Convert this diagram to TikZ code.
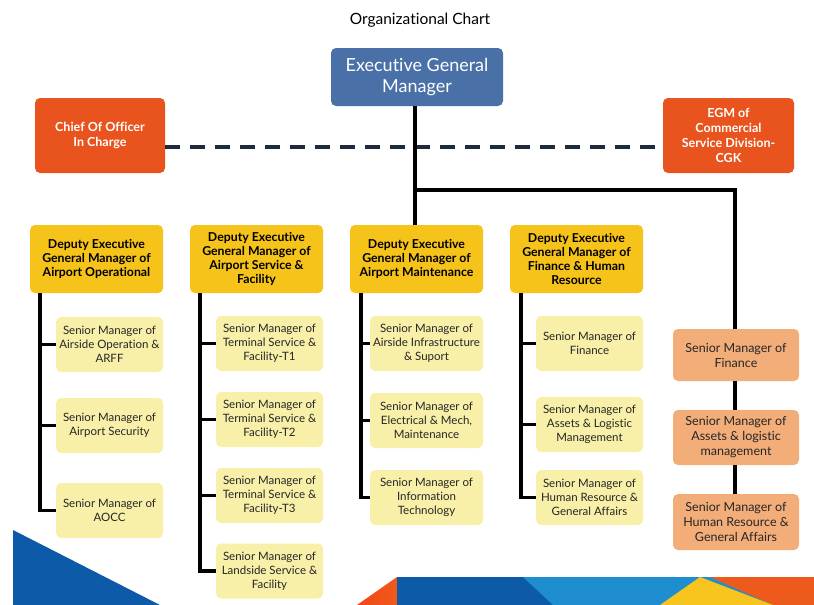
\documentclass[tikz,border=0pt]{standalone}
\usepackage{fontspec}
\setmainfont{Lato}[Ligatures=NoCommon]
\usetikzlibrary{positioning,calc}

\definecolor{egmblue}{HTML}{4A70A8}
\definecolor{redorange}{HTML}{E9531D}
\definecolor{depyellow}{HTML}{F6C31A}
\definecolor{paleyellow}{HTML}{F8F0A8}
\definecolor{peach}{HTML}{F2AD78}
\definecolor{navyline}{HTML}{1E2B3B}
\definecolor{bandblue}{HTML}{0D5AA8}
\definecolor{bandlight}{HTML}{1E8ED0}
\definecolor{bandyellow}{HTML}{F7C51E}
\definecolor{bandorange}{HTML}{EE5A1C}

\tikzset{
  box/.style={rounded corners=5pt, align=center, inner sep=2pt},
  topbox/.style={box, fill=egmblue, text=white, minimum width=172pt, minimum height=58pt,
    font=\fontsize{18}{21}\selectfont},
  sidebox/.style={box, fill=redorange, text=white, minimum width=130pt, minimum height=75pt,
    font=\bfseries\fontsize{12.5}{15}\selectfont},
  depbox/.style={box, fill=depyellow, text=black, minimum width=133pt, minimum height=68pt,
    font=\bfseries\fontsize{12.3}{14.2}\selectfont},
  srbox/.style={box, fill=paleyellow, text=black!85, minimum width=107pt, minimum height=55pt,
    font=\fontsize{11.5}{14}\selectfont},
  pkbox/.style={box, fill=peach, text=black!85, minimum width=126pt, minimum height=55pt,
    font=\fontsize{12.5}{15}\selectfont},
  conn/.style={line width=3.8pt, black, line join=miter},
  dashconn/.style={line width=3.6pt, navyline, dash pattern=on 15pt off 10pt},
}

\begin{document}
\begin{tikzpicture}[x=1pt, y=-1pt]
\useasboundingbox (0,0) rectangle (814,605);
\fill[white] (0,0) rectangle (814,605);

% decorative band along the bottom edge
\fill[bandblue] (13,530) -- (160,605) -- (13,605) -- cycle;
\shade[left color=bandorange!80!red, right color=bandorange] (357,605) -- (397,577) -- (397,605) -- cycle;
\fill[bandblue] (397,577) rectangle (814,605);
\fill[bandlight] (523,577) -- (814,577) -- (814,605) -- (553,605) -- cycle;
\fill[bandorange] (710,577) -- (814,577) -- (814,605) -- (773,605) -- cycle;
\fill[bandyellow] (700,577) -- (773,605) -- (660,605) -- cycle;

% title
\node (title) at (420,20) {\fontsize{15.5}{18}\selectfont Organizational Chart};

% top level
\node[topbox] (egm) at (417,77) {Executive General\\Manager};
\node[sidebox] (chief) at (100,135.5) {Chief Of Officer\\In Charge};
\node[sidebox, minimum width=131pt] (egmc) at (728.5,135.5) {EGM of\\Commercial\\Service Division-\\CGK};

% deputies
\node[depbox] (dep1) at (96.5,259) {Deputy Executive\\General Manager of\\Airport Operational};
\node[depbox] (dep2) at (256.5,259) {Deputy Executive\\General Manager of\\Airport Service \&\\Facility};
\node[depbox] (dep3) at (416.5,259) {Deputy Executive\\General Manager of\\Airport Maintenance};
\node[depbox] (dep4) at (576.5,259) {Deputy Executive\\General Manager of\\Finance \& Human\\Resource};

% senior managers, operational
\node[srbox] (s11) at (109.5,344.5) {Senior Manager of\\Airside Operation \&\\ARFF};
\node[srbox] (s12) at (109.5,425.5) {Senior Manager of\\Airport Security};
\node[srbox] (s13) at (109.5,510.5) {Senior Manager of\\AOCC};

% senior managers, service & facility
\node[srbox] (s21) at (269.5,343.5) {Senior Manager of\\Terminal Service \&\\Facility-T1};
\node[srbox] (s22) at (269.5,419.5) {Senior Manager of\\Terminal Service \&\\Facility-T2};
\node[srbox] (s23) at (269.5,495.5) {Senior Manager of\\Terminal Service \&\\Facility-T3};
\node[srbox] (s24) at (269.5,571) {Senior Manager of\\Landside Service \&\\Facility};

% senior managers, maintenance
\node[srbox, minimum width=113pt] (s31) at (426.5,343.5) {Senior Manager of\\Airside Infrastructure\\\& Suport};
\node[srbox, minimum width=113pt] (s32) at (426.5,420.5) {Senior Manager of\\Electrical \& Mech,\\Maintenance};
\node[srbox, minimum width=113pt] (s33) at (426.5,497.5) {Senior Manager of\\Information\\Technology};

% senior managers, finance & HR
\node[srbox] (s41) at (589.5,343.5) {Senior Manager of\\Finance};
\node[srbox] (s42) at (589.5,424.5) {Senior Manager of\\Assets \& Logistic\\Management};
\node[srbox] (s43) at (589.5,497.5) {Senior Manager of\\Human Resource \&\\General Affairs};

% commercial division managers
\node[pkbox, minimum height=52pt] (o1) at (736,355) {Senior Manager of\\Finance};
\node[pkbox] (o2) at (736,437.5) {Senior Manager of\\Assets \& logistic\\management};
\node[pkbox, minimum height=56pt] (o3) at (736,522) {Senior Manager of\\Human Resource \&\\General Affairs};

% connectors
\draw[dashconn] ([yshift=-11.5pt]chief.east) -- ([yshift=-11.5pt]egmc.west);
\draw[conn] ([xshift=-2pt]egm.south) -- ([xshift=-1.5pt]dep3.north);
\path ([xshift=-2pt]egm.south) ++(0,84) coordinate (split);
\draw[conn] (split) -| ([xshift=-1pt]o1.north);
\draw[conn] ([xshift=-1pt]o1.south) -- ([xshift=-1pt]o2.north);
\draw[conn] ([xshift=-1pt]o2.south) -- ([xshift=-1pt]o3.north);

\foreach \d/\list in {dep1/{s11,s12,s13}, dep2/{s21,s22,s23,s24}}
  \foreach \s in \list
    \draw[conn] ([xshift=10pt]\d.south west) |- (\s.west);
\foreach \d/\list in {dep3/{s31,s32,s33}, dep4/{s41,s42,s43}}
  \foreach \s in \list
    \draw[conn] ([xshift=11pt]\d.south west) |- (\s.west);
\end{tikzpicture}
\end{document}
